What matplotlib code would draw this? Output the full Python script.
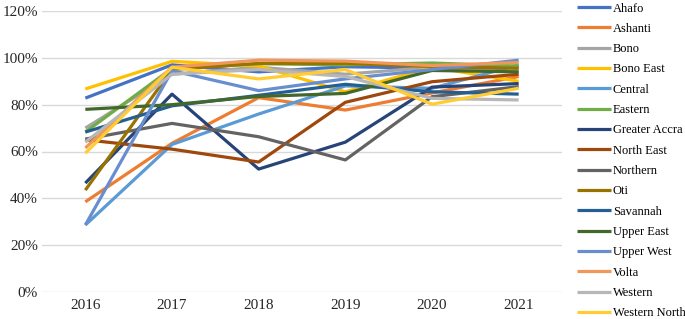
import matplotlib.pyplot as plt
from matplotlib.ticker import PercentFormatter

years = ["2016", "2017", "2018", "2019", "2020", "2021"]

regions = ["Ahafo", "Ashanti", "Bono", "Bono East", "Central", "Eastern",
           "Greater Accra", "North East", "Northern", "Oti", "Savannah",
           "Upper East", "Upper West", "Volta", "Western", "Western North"]

ahafo = [82.8, 97.0, 94.0, 96.2, 95.6, 96.0]
ashanti = [38.5, 63.5, 83.0, 77.7, 85.0, 92.0]
bono = [70.0, 93.0, 96.0, 93.0, 96.0, 94.0]
bono_east = [86.7, 98.5, 96.5, 85.5, 96.0, 90.0]
central = [28.6, 63.0, 76.0, 88.0, 87.0, 97.0]
eastern = [68.3, 95.5, 97.5, 97.0, 97.8, 96.5]
greater_accra = [46.5, 84.5, 52.5, 64.0, 87.5, 89.0]
north_east = [65.0, 61.0, 55.5, 81.0, 89.8, 93.0]
northern = [65.3, 72.0, 66.3, 56.4, 83.4, 87.7]
oti = [43.5, 95.0, 97.6, 97.6, 96.3, 95.5]
savannah = [68.3, 79.5, 84.0, 88.7, 85.5, 84.5]
upper_east = [78.0, 80.0, 83.5, 84.8, 94.6, 94.0]
upper_west = [28.6, 94.5, 86.0, 91.0, 95.0, 99.0]
volta = [61.5, 96.0, 99.0, 98.6, 96.7, 98.0]
western = [64.0, 93.0, 95.0, 92.0, 82.7, 82.0]
western_north = [59.3, 96.0, 91.0, 95.0, 80.2, 87.0]

series = [ahafo, ashanti, bono, bono_east, central, eastern, greater_accra,
          north_east, northern, oti, savannah, upper_east, upper_west,
          volta, western, western_north]

colors = ["#4472C4", "#ED7D31", "#A5A5A5", "#FFC000", "#5B9BD5", "#70AD47",
          "#264478", "#9E480E", "#636363", "#997300", "#255E91", "#43682B",
          "#698ED0", "#F1975A", "#B7B7B7", "#FFCD33"]

plt.rcParams['font.family'] = ['Liberation Serif', 'DejaVu Serif']

fig = plt.figure(figsize=(6.85, 3.19), dpi=100)
ax = fig.add_axes([42 / 685, 1 - 292 / 319, 520 / 685, 281 / 319])

x = range(len(years))
for name, vals, c in zip(regions, series, colors):
    ax.plot(x, vals, color=c, linewidth=2.3, label=name, solid_capstyle='butt')

ax.set_ylim(0, 120)
ax.set_xlim(-0.5, len(years) - 0.5)
ax.set_yticks(range(0, 121, 20))
ax.yaxis.set_major_formatter(PercentFormatter(decimals=0))
ax.set_xticks(list(x))
ax.set_xticklabels(years)
ax.grid(axis='y', color='#D9D9D9', linewidth=1)
ax.set_axisbelow(True)
for s in ax.spines.values():
    s.set_visible(False)
ax.tick_params(length=0, labelsize=11, colors='#262626')
ax.tick_params(axis='y', pad=3)
ax.tick_params(axis='x', pad=5)

fig.legend(loc='upper left', bbox_to_anchor=(577 / 685, 0.992), frameon=False,
           fontsize=9, handlelength=2.7, handletextpad=0.15,
           labelspacing=0.665, borderpad=0, borderaxespad=0)

fig.savefig("out.png", dpi=100)
